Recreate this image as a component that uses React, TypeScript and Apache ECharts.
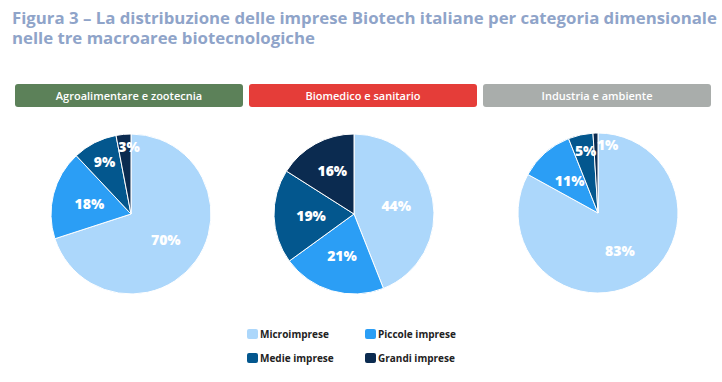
import React, { useEffect, useRef } from "react";
import * as echarts from "echarts";

const categories = ["Microimprese", "Piccole imprese", "Medie imprese", "Grandi imprese"];
const colors = ["#acd7fb", "#2b9ef5", "#03578e", "#0b2b50"];
const areas = ["Agroalimentare e zootecnia", "Biomedico e sanitario", "Industria e ambiente"];
const areaColors = ["#5c8159", "#e53d39", "#a9adab"];
const agroValues = [70, 18, 9, 3];
const biomedValues = [44, 21, 19, 16];
const industriaValues = [83, 11, 5, 1];
// small label nudges for thin slices (per area, per category)
const labelOffsets: number[][][] = [
  [[0, 0], [0, 0], [-7, -14], [2, -25]],
  [[0, 0], [0, 0], [0, 0], [-1, -6]],
  [[0, 0], [0, 0], [-3, -21], [11, -26]],
];
const titleText = "Figura 3 – La distribuzione delle imprese Biotech italiane per categoria dimensionale\nnelle tre macroaree biotecnologiche";

const centers: [number, number][] = [[131, 214], [354, 214], [598, 213]];
const boxes = [
  { x: 15, w: 228 },
  { x: 249, w: 228 },
  { x: 483, w: 228 },
];

export default function App() {
  const ref = useRef<HTMLDivElement>(null);
  useEffect(() => {
    document.body.style.margin = "0";
    const chart = echarts.init(ref.current!, undefined, { renderer: "svg" });
    const allValues = [agroValues, biomedValues, industriaValues];
    const series = allValues.map((vals, si) => ({
      type: "pie",
      name: areas[si],
      center: centers[si],
      radius: 80,
      startAngle: 90,
      clockwise: true,
      avoidLabelOverlap: false,
      itemStyle: { borderColor: "#ffffff", borderWidth: 1 },
      label: {
        show: true,
        position: "inside",
        formatter: "{c}%",
        color: "#ffffff",
        fontFamily: "Open Sans",
        fontWeight: 800,
        fontSize: 14,
      },
      labelLine: { show: false },
      emphasis: { disabled: true },
      data: vals.map((v, i) => ({
        name: categories[i],
        value: v,
        itemStyle: { color: colors[i] },
        label: { offset: labelOffsets[si][i] },
      })),
    }));
    const legendCommon = {
      orient: "vertical",
      padding: 0,
      itemWidth: 13,
      itemHeight: 12,
      itemGap: 10,
      icon: "roundRect",
      textStyle: { color: "#222222", fontFamily: "Open Sans", fontWeight: 700, fontSize: 10, padding: [0, 0, 0, -4] },
      selectedMode: false,
    };
    chart.setOption({
      animation: false,
      backgroundColor: "#ffffff",
      color: colors,
      title: {
        text: titleText,
        left: 7,
        top: 2,
        textStyle: {
          color: "#8fa4c9",
          fontFamily: "Open Sans",
          fontWeight: 700,
          fontSize: 16.8,
          lineHeight: 20,
        },
      },
      legend: [
        { ...legendCommon, left: 245, top: 327, data: [categories[0], categories[2]] },
        { ...legendCommon, left: 363, top: 327, data: [categories[1], categories[3]] },
      ],
      graphic: boxes.flatMap((b, i) => [
        {
          type: "rect",
          shape: { x: b.x, y: 84, width: b.w, height: 23, r: 3 },
          style: { fill: areaColors[i] },
        },
        {
          type: "text",
          x: b.x + b.w / 2,
          y: 95.5,
          style: {
            text: areas[i],
            fill: "#ffffff",
            font: "600 11px 'Open Sans'",
            align: "center",
            verticalAlign: "middle",
          },
        },
      ]),
      series,
    });
    return () => chart.dispose();
  }, []);
  return <div ref={ref} style={{ width: 722, height: 382 }} />;
}
